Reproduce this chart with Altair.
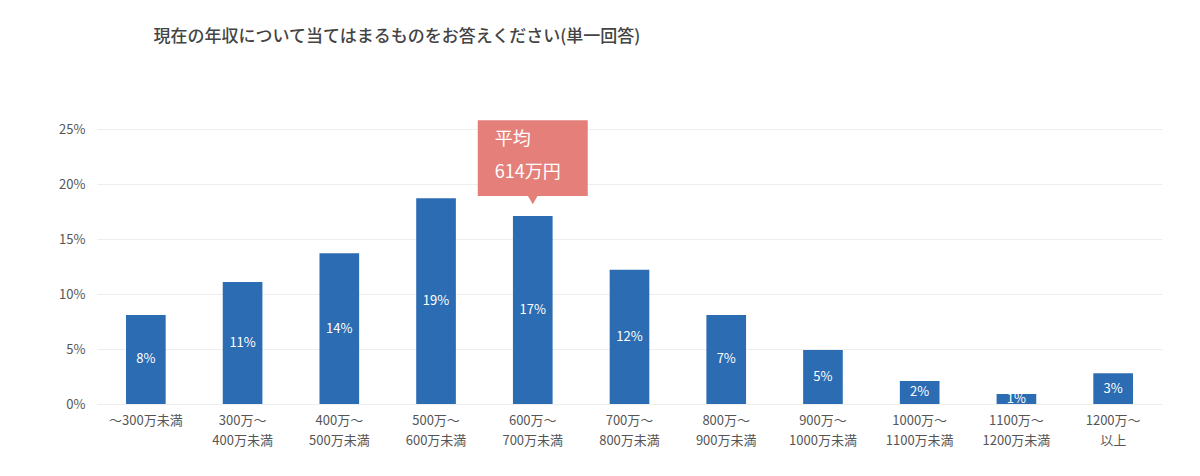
import altair as alt
import pandas as pd

cats = ["～300万未満", "300万～\n400万未満", "400万～\n500万未満", "500万～\n600万未満",
        "600万～\n700万未満", "700万～\n800万未満", "800万～\n900万未満", "900万～\n1000万未満",
        "1000万～\n1100万未満", "1100万～\n1200万未満", "1200万～\n以上"]
values = [8.1, 11.1, 13.7, 18.7, 17.1, 12.2, 8.1, 4.9, 2.1, 0.9, 2.8]
labels = ["8%", "11%", "14%", "19%", "17%", "12%", "7%", "5%", "2%", "1%", "3%"]

df = pd.DataFrame({"cat": cats, "v": values, "lab": labels})
df["mid"] = df["v"] / 2

FONT = "Noto Sans CJK JP"
xenc = alt.X("cat:N", sort=cats, title=None,
             axis=alt.Axis(labelAngle=0, labelExpr="split(datum.label, '\\n')",
                           labelFontSize=13, labelColor="#555", labelPadding=10,
                           domain=False, ticks=False, labelLineHeight=20),
             scale=alt.Scale(paddingInner=0.59, paddingOuter=0.3))

bars = alt.Chart(df).mark_bar(color="#2b6cb3").encode(
    x=xenc,
    y=alt.Y("v:Q", title=None, scale=alt.Scale(domain=[0, 25]),
            axis=alt.Axis(values=[0, 5, 10, 15, 20, 25], labelExpr="datum.value + '%'",
                          labelFontSize=13, labelColor="#555", domain=False, ticks=False,
                          gridColor="#eeeeee", labelPadding=12)))
text = alt.Chart(df).mark_text(color="white", fontSize=13, font=FONT).encode(
    x=alt.X("cat:N", sort=cats), y="mid:Q", text="lab:N")

ann = pd.DataFrame({"cat": [cats[4]], "top": [25.8], "bot": [18.9], "tri": [18.6],
                    "t1": [24.0], "t2": [21.0], "s1": ["平均"], "s2": ["614万円"]})
box = alt.Chart(ann).mark_rect(color="#e57f7a", width=110).encode(
    x=alt.X("cat:N", sort=cats), y="top:Q", y2="bot:Q")
tri = alt.Chart(ann).mark_point(shape="triangle-down", filled=True, color="#e57f7a",
                                size=120, opacity=1).encode(x=alt.X("cat:N", sort=cats), y="tri:Q")
t1 = alt.Chart(ann).mark_text(color="white", fontSize=18, font=FONT, align="left", dx=-38).encode(
    x=alt.X("cat:N", sort=cats), y="t1:Q", text="s1:N")
t2 = alt.Chart(ann).mark_text(color="white", fontSize=18, font=FONT, align="left", dx=-38).encode(
    x=alt.X("cat:N", sort=cats), y="t2:Q", text="s2:N")

chart = alt.layer(bars, text, box, tri, t1, t2).properties(
    width=1065, height=286,
    padding={"left": 50, "top": 20, "right": 5, "bottom": 5},
    title=alt.TitleParams("現在の年収について当てはまるものをお答えください(単一回答)",
                          anchor="start", dx=95, offset=72, fontSize=17,
                          color="#444", font=FONT, fontWeight=500)
).configure_view(stroke=None).configure_axis(labelFont=FONT)

chart.save("out.html", embed_options={"renderer": "svg", "actions": False})
